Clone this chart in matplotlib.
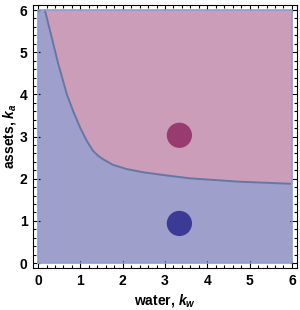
import matplotlib
matplotlib.use("Agg")
import matplotlib.pyplot as plt
from matplotlib.ticker import MultipleLocator

plt.rcParams['font.family'] = ['Liberation Sans', 'DejaVu Sans']
plt.rcParams['mathtext.fontset'] = 'custom'
plt.rcParams['mathtext.it'] = 'Liberation Sans:italic:bold'
plt.rcParams['mathtext.rm'] = 'Liberation Sans:bold'

# boundary curve
curve_kw = [0.16, 0.31, 0.47, 0.68, 0.83, 0.99, 1.15, 1.30, 1.42, 1.54, 1.77,
            2.09, 2.5, 2.87, 3.58, 4.75, 6.0]
curve_ka = [6.0, 5.4, 4.75, 4.0, 3.6, 3.22, 2.9, 2.66, 2.545, 2.46, 2.33,
            2.23, 2.15, 2.1, 2.01, 1.93, 1.88]

# region bounds
kw_min, kw_max = 0, 6
ka_min, ka_max = 0, 6

# marker points
pts_kw = [3.34, 3.34]
pts_ka = [3.03, 0.94]
pts_col = ['#993a70', '#3b3a94']

fig = plt.figure(figsize=(3, 3.1), dpi=100)
ax = fig.add_axes([0.11, 0.135, 0.88, 0.849])

blue = '#9f9fcc'
pink = '#cc9db8'

# whole square in blue, pink above the curve
ax.fill_between([kw_min, kw_max], ka_min, ka_max, color=blue, lw=0, zorder=1)
ax.fill_between(curve_kw, curve_ka, ka_max, color=pink, lw=0, zorder=2)
ax.plot(curve_kw, curve_ka, color='#6378a6', lw=1.4, zorder=3,
        solid_capstyle='round', solid_joinstyle='round')

# square outline
ax.plot([kw_min, kw_max, kw_max, kw_min, kw_min],
        [ka_min, ka_min, ka_max, ka_max, ka_min],
        color='#8d9fd0', lw=1.2, zorder=3)

ax.scatter(pts_kw, pts_ka, s=330, c=pts_col, edgecolors='none', zorder=4)

ax.set_xlim(-0.12, 6.12)
ax.set_ylim(-0.12, 6.12)

ax.xaxis.set_major_locator(MultipleLocator(1))
ax.yaxis.set_major_locator(MultipleLocator(1))
ax.xaxis.set_minor_locator(MultipleLocator(0.2))
ax.yaxis.set_minor_locator(MultipleLocator(0.2))
ax.tick_params(which='both', direction='in', top=True, right=True, width=0.8)
ax.tick_params(which='major', length=5, labelsize=10, pad=4)
ax.tick_params(which='minor', length=2.5)
for lab in ax.get_xticklabels() + ax.get_yticklabels():
    lab.set_fontweight('bold')
for s in ax.spines.values():
    s.set_linewidth(0.8)

ax.set_xlabel('water, $k_w$', fontsize=10, fontweight='bold', labelpad=3)
ax.set_ylabel('assets, $k_a$', fontsize=10, fontweight='bold', labelpad=1)

fig.savefig('out.png', dpi=100)
